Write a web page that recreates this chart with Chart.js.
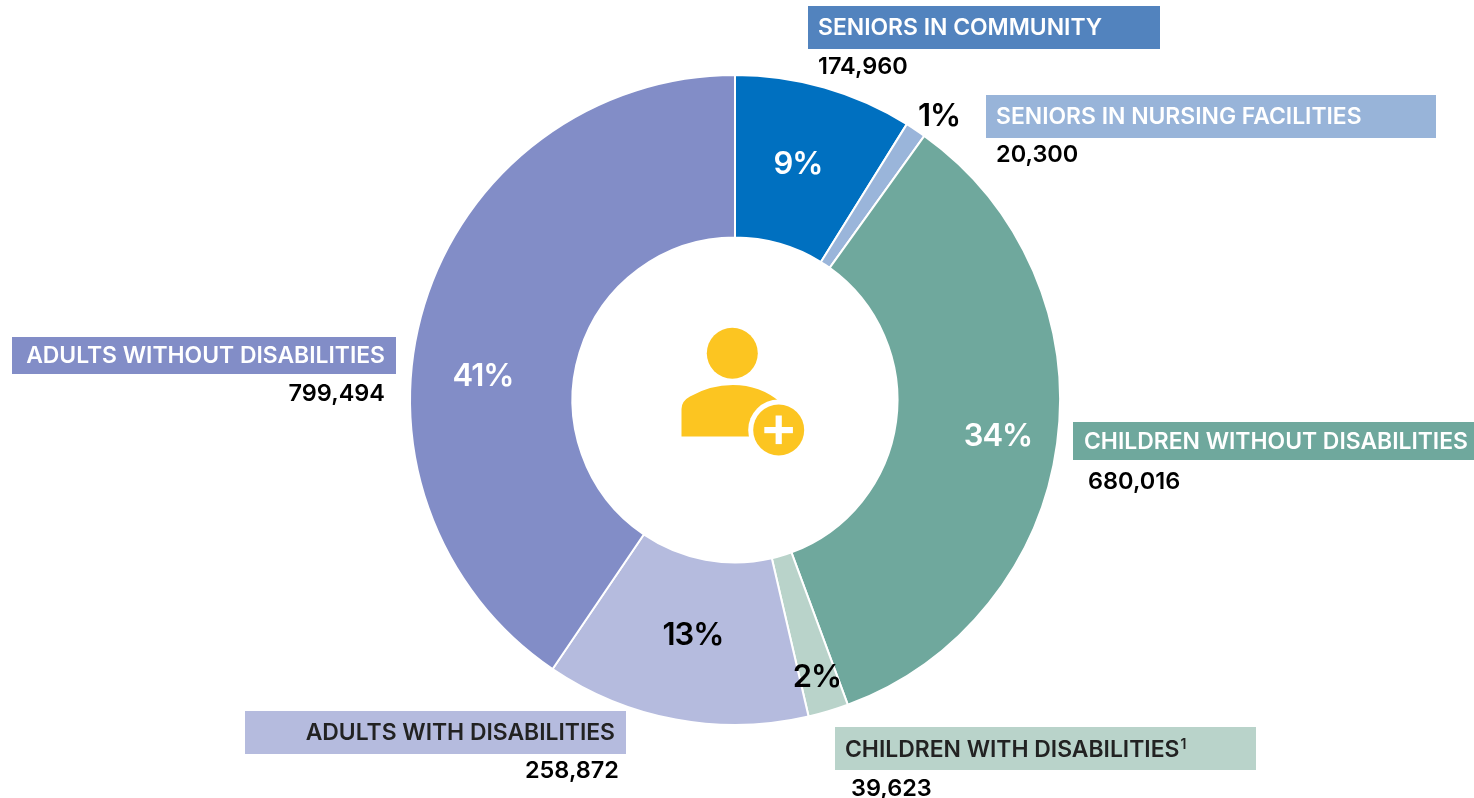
<!DOCTYPE html>
<html>
<head>
<meta charset="utf-8">
<style>
  html, body { margin: 0; padding: 0; background: #fff; }
  #wrap { position: relative; width: 1474px; height: 798px; }
</style>
<script src="https://cdn.jsdelivr.net/npm/chart.js@4"></script>
</head>
<body>
<div id="wrap"><canvas id="chart" width="1474" height="798"></canvas></div>
<script>
const categories = ['SENIORS IN COMMUNITY', 'SENIORS IN NURSING FACILITIES', 'CHILDREN WITHOUT DISABILITIES',
                    'CHILDREN WITH DISABILITIES', 'ADULTS WITH DISABILITIES', 'ADULTS WITHOUT DISABILITIES'];
const enrollment = [174960, 20300, 680016, 39623, 258872, 799494];
const percentLabels = ['9%', '1%', '34%', '2%', '13%', '41%'];
const sliceColors = ['#0070c0', '#9ab5da', '#6fa89d', '#b9d3ca', '#b5bbde', '#828dc7'];

// Callout layout, one entry per category.
const callouts = [
  { box: [808, 6, 352, 43],    fill: '#5283be', ink: '#ffffff', textX: 818,  textY: 28.5,  align: 'left',  numX: 818,  numY: 67 },
  { box: [986, 95, 450, 43],   fill: '#98b4d9', ink: '#ffffff', textX: 996,  textY: 117.5, align: 'left',  numX: 996,  numY: 155 },
  { box: [1073, 422, 401, 38], fill: '#6fa89d', ink: '#ffffff', textX: 1084, textY: 442.5, align: 'left',  numX: 1088, numY: 482 },
  { box: [835, 727, 421, 43],  fill: '#b9d3ca', ink: '#222222', textX: 845,  textY: 750.5, align: 'left',  numX: 851,  numY: 789, sup: '1' },
  { box: [245, 711, 381, 43],  fill: '#b5bbde', ink: '#222222', textX: 615,  textY: 733.5, align: 'right', numX: 619,  numY: 771 },
  { box: [12, 337, 384, 37],   fill: '#828dc7', ink: '#ffffff', textX: 385,  textY: 356.5, align: 'right', numX: 385,  numY: 394 }
];
const percentSpots = [
  { x: 798, y: 165, ink: '#ffffff' },
  { x: 939, y: 117, ink: '#000000' },
  { x: 998, y: 437, ink: '#ffffff' },
  { x: 817, y: 678, ink: '#000000' },
  { x: 693, y: 636, ink: '#000000' },
  { x: 483, y: 377, ink: '#ffffff' }
];

const FONT = 'Inter, "Noto Sans", sans-serif';

// Person with a plus badge in the hole of the ring.
function drawIcon(ctx) {
  const gold = '#fcc521';
  ctx.fillStyle = gold;
  ctx.beginPath();
  ctx.arc(732.3, 353.3, 25.5, 0, Math.PI * 2);
  ctx.fill();

  ctx.beginPath();
  ctx.moveTo(681.5, 436.5);
  ctx.lineTo(681.5, 409);
  ctx.quadraticCurveTo(681.5, 401, 690, 396.5);
  ctx.quadraticCurveTo(710, 385, 733, 385);
  ctx.quadraticCurveTo(760, 385, 780, 402);
  ctx.lineTo(780, 436.5);
  ctx.closePath();
  ctx.fill();

  ctx.fillStyle = '#ffffff';
  ctx.beginPath();
  ctx.arc(778.7, 430, 30.5, 0, Math.PI * 2);
  ctx.fill();
  ctx.fillRect(749, 436.5, 40, 12);

  ctx.fillStyle = gold;
  ctx.beginPath();
  ctx.arc(778.7, 430, 25.5, 0, Math.PI * 2);
  ctx.fill();

  ctx.fillStyle = '#ffffff';
  ctx.fillRect(764.3, 427, 28.6, 6.2);
  ctx.fillRect(775.6, 415.5, 6.2, 28.6);
}

const annotate = {
  id: 'annotate',
  afterDatasetsDraw(chart) {
    const ctx = chart.ctx;
    ctx.save();
    drawIcon(ctx);
    ctx.textBaseline = 'middle';

    callouts.forEach((c, i) => {
      const [x, y, w, h] = c.box;
      ctx.fillStyle = c.fill;
      ctx.fillRect(x, y, w, h);

      ctx.fillStyle = c.ink;
      ctx.textAlign = c.align;
      ctx.font = '600 22.9px ' + FONT;
      ctx.letterSpacing = '0px';
      ctx.fillText(categories[i], c.textX, c.textY);
      if (c.sup) {
        const tw = ctx.measureText(categories[i]).width;
        ctx.font = '600 14px ' + FONT;
        ctx.textAlign = 'left';
        ctx.fillText(c.sup, c.textX + tw + 1, c.textY - 6);
      }

      ctx.fillStyle = '#000000';
      ctx.font = '600 23.5px ' + FONT;
      ctx.textAlign = c.align;
      ctx.fillText(enrollment[i].toLocaleString('en-US'), c.numX, c.numY);
    });

    percentSpots.forEach((p, i) => {
      ctx.fillStyle = p.ink;
      ctx.font = '600 31px ' + FONT;
      ctx.letterSpacing = '-1px';
      ctx.textAlign = 'center';
      ctx.fillText(percentLabels[i], p.x, p.y);
    });
    ctx.restore();
  }
};

new Chart(document.getElementById('chart'), {
  type: 'doughnut',
  data: {
    labels: categories,
    datasets: [{
      data: enrollment,
      backgroundColor: sliceColors,
      borderColor: '#ffffff',
      borderWidth: 2,
      borderAlign: 'center'
    }]
  },
  options: {
    responsive: false,
    animation: false,
    cutout: '50%',
    layout: { padding: { left: 409, right: 413, top: 74, bottom: 72 } },
    plugins: { legend: { display: false }, tooltip: { enabled: false } }
  },
  plugins: [annotate]
});
</script>
</body>
</html>
